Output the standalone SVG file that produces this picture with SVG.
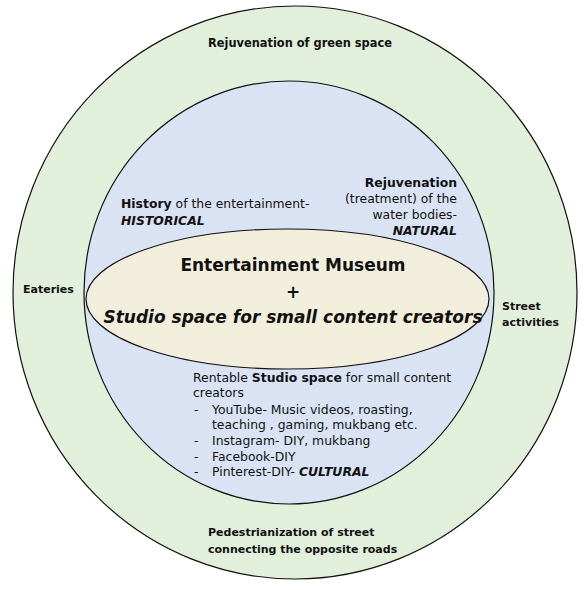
<svg xmlns="http://www.w3.org/2000/svg" width="588" height="590" viewBox="0 0 588 590">
<style>
text{font-family:"DejaVu Sans","Liberation Sans",sans-serif;fill:#111}
.lb{font-weight:bold;font-size:11px}
.rg{font-size:12.4px}
.b{font-weight:bold}
.bi{font-weight:bold;font-style:italic}
.big{font-weight:bold;font-size:17px}
.ring{stroke:#111;stroke-width:1.2}
</style>
<rect width="588" height="590" fill="#ffffff"/>
<g id="outer-ring">
<ellipse class="ring" cx="295" cy="292.5" rx="282" ry="286.5" fill="#e2efda"/>
<text class="lb" x="300" y="47" text-anchor="middle" style="font-size:11.4px">Rejuvenation of green space</text>
<text class="lb" x="23" y="293">Eateries</text>
<text class="lb" x="502" y="310">Street</text>
<text class="lb" x="502" y="326">activities</text>
<text class="lb" x="208" y="536">Pedestrianization of street</text>
<text class="lb" x="208" y="552.5">connecting the opposite roads</text>
</g>
<g id="inner-circle">
<ellipse class="ring" cx="289" cy="292.5" rx="205" ry="211.5" fill="#dae3f3"/>
<text class="rg" x="121" y="208"><tspan class="b">History</tspan> of the entertainment-</text>
<text class="rg" x="121" y="225"><tspan class="bi">HISTORICAL</tspan></text>
<text class="rg" x="457" y="187" text-anchor="end"><tspan class="b">Rejuvenation</tspan></text>
<text class="rg" x="457" y="203" text-anchor="end">(treatment) of the</text>
<text class="rg" x="457" y="219" text-anchor="end">water bodies-</text>
<text class="rg" x="457" y="235" text-anchor="end"><tspan class="bi">NATURAL</tspan></text>
<text class="rg" x="193" y="382">Rentable <tspan class="b">Studio space</tspan> for small content</text>
<text class="rg" x="193" y="397">creators</text>
<text class="rg" x="194" y="414">-</text>
<text class="rg" x="212" y="414">YouTube- Music videos, roasting,</text>
<text class="rg" x="212" y="429">teaching , gaming, mukbang etc.</text>
<text class="rg" x="194" y="445">-</text>
<text class="rg" x="212" y="445">Instagram- DIY, mukbang</text>
<text class="rg" x="194" y="461">-</text>
<text class="rg" x="212" y="461">Facebook-DIY</text>
<text class="rg" x="194" y="476">-</text>
<text class="rg" x="212" y="476">Pinterest-DIY- <tspan class="bi">CULTURAL</tspan></text>
</g>
<g id="core-ellipse">
<ellipse class="ring" cx="287.5" cy="299" rx="201.5" ry="70" fill="#f1efdc"/>
<text class="big" x="293" y="271" text-anchor="middle">Entertainment Museum</text>
<text class="big" x="293" y="298" text-anchor="middle">+</text>
<text class="big" x="293" y="323" text-anchor="middle" font-style="italic">Studio space for small content creators</text>
</g>
<g id="connectors"/>
</svg>
